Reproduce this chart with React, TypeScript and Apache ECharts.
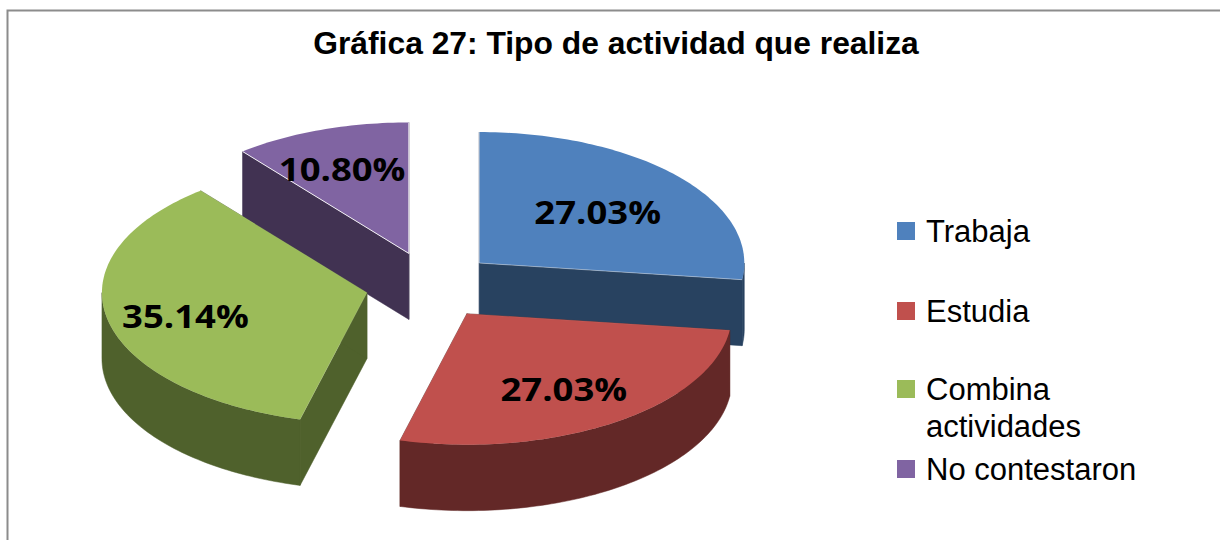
import React, { useEffect, useRef } from "react";
import * as echarts from "echarts";

const titleText = "Gráfica 27: Tipo de actividad que realiza";
const categories = ["Trabaja", "Estudia", "Combina actividades", "No contestaron"];
const percentages = [27.03, 27.03, 35.14, 10.8];

const topColors = ["#4F81BD", "#C0504D", "#9BBB59", "#8064A2"];
const sideColors = ["#284260", "#632827", "#4F612C", "#413252"];
const edgeAlpha = [0.4, 0.08, 0.12, 0.9];
const labelReach = [0.6, 0.66, 0.72, 0.7];
const labelNudgeX = [-1, -1, 5, -5];
const labelNudgeY = [0, 3, 3, 1];
const paintOrder = [2, 4, 3, 1];
const legendTops = [212.5, 292.5, 370.5, 450.5];

const CX = 430.5;
const CY = 285.5;
const RX = 265;
const RY = 131;
const EXPLODE_X = 65;
const EXPLODE_Y = 34;
const DEPTH = 66;

const squareIcon = "path://M0 0H18V18H0Z";
const squareOnFirstLineIcon = "path://M0 0H18V18H0Z M0 55L18 55Z";

const total = percentages.reduce((a, b) => a + b, 0);
const toAngle = (v: number) => (v / total) * Math.PI * 2;

function renderSlice(index: number) {
  return (_params: any, api: any) => {
    const value = api.value(0);
    let start = 0;
    for (let i = 0; i < index; i++) start += toAngle(percentages[i]);
    const end = start + toAngle(value);
    const mid = (start + end) / 2;
    const ax = CX + EXPLODE_X * Math.sin(mid);
    const ay = CY - EXPLODE_Y * Math.cos(mid);
    const rim = (a: number, dy = 0): number[] => [
      ax + RX * Math.sin(a),
      ay - RY * Math.cos(a) + dy,
    ];
    const arc = (a0: number, a1: number, dy = 0) => {
      const n = Math.max(2, Math.ceil(Math.abs(a1 - a0) / 0.02));
      const pts: number[][] = [];
      for (let i = 0; i <= n; i++) pts.push(rim(a0 + ((a1 - a0) * i) / n, dy));
      return pts;
    };
    const side = sideColors[index];
    const children: any[] = [];
    const wall = (a: number) => ({
      type: "polygon",
      shape: { points: [[ax, ay], rim(a), rim(a, DEPTH), [ax, ay + DEPTH]] },
      style: { fill: side, stroke: side, lineWidth: 0.5 },
    });
    children.push(wall(start), wall(end));
    const f0 = Math.max(start, Math.PI / 2);
    const f1 = Math.min(end, (Math.PI * 3) / 2);
    if (f1 > f0) {
      children.push({
        type: "polygon",
        shape: { points: [...arc(f0, f1), ...arc(f1, f0, DEPTH)] },
        style: { fill: side, stroke: side, lineWidth: 0.5 },
      });
    }
    children.push({
      type: "polygon",
      shape: { points: [[ax, ay], ...arc(start, end)] },
      style: { fill: topColors[index] },
    });
    children.push({
      type: "polyline",
      shape: { points: [rim(start), [ax, ay], rim(end)] },
      style: { fill: "none", stroke: `rgba(255,255,255,${edgeAlpha[index]})`, lineWidth: 1 },
    });
    const r = labelReach[index];
    children.push({
      type: "text",
      z2: 10,
      x: ax + RX * r * Math.sin(mid) + labelNudgeX[index],
      y: ay - RY * r * Math.cos(mid) + labelNudgeY[index],
      scaleX: 1.105,
      style: {
        text: value.toFixed(2) + "%",
        x: 0,
        y: 0,
        align: "center",
        verticalAlign: "middle",
        font: 'bold 33px "Open Sans"',
        fill: "#000000",
      },
    });
    return { type: "group", children };
  };
}

export default function App() {
  const ref = useRef<HTMLDivElement>(null);
  useEffect(() => {
    const chart = echarts.init(ref.current!, null, { renderer: "svg" });
    chart.setOption({
      animation: false,
      backgroundColor: "#FFFFFF",
      title: {
        text: titleText,
        left: 611,
        top: 22,
        textAlign: "center",
        textStyle: { fontFamily: "Liberation Sans", fontWeight: "bold", fontSize: 31.8, color: "#000000" },
      },
      legend: categories.map((name, i) => {
        const wraps = name.includes(" actividades");
        return {
          orient: "vertical",
          left: 897,
          top: legendTops[i],
          padding: 0,
          itemWidth: 18,
          itemHeight: wraps ? 55 : 18,
          selectedMode: false,
          textStyle: {
            fontFamily: "Liberation Sans",
            fontSize: 31,
            lineHeight: 37,
            color: "#000000",
            padding: [0, 0, 0, 6],
          },
          data: [{ name, icon: wraps ? squareOnFirstLineIcon : squareIcon }],
          formatter: (n: string) => n.replace(" actividades", "\nactividades"),
        };
      }),
      graphic: [
        {
          type: "polyline",
          silent: true,
          shape: { points: [[7.5, 540], [7.5, 10.5], [1220, 10.5]] },
          style: { fill: "none", stroke: "#8C8C8C", lineWidth: 2 },
        },
      ],
      series: categories.map((name, i) => ({
        type: "custom",
        name,
        coordinateSystem: "none",
        z: paintOrder[i],
        itemStyle: { color: topColors[i] },
        renderItem: renderSlice(i),
        data: [[percentages[i]]],
        encode: { value: 0 },
      })),
    });
    return () => chart.dispose();
  }, []);
  return <div ref={ref} style={{ position: "fixed", left: 0, top: 0, width: 1220, height: 540 }} />;
}
